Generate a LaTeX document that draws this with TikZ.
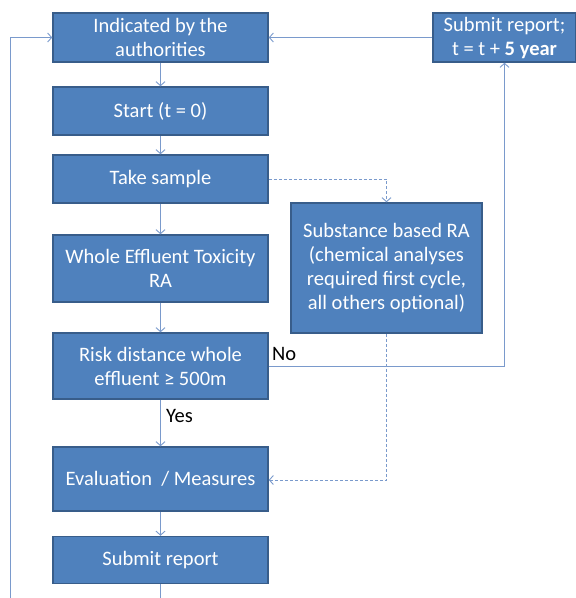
\documentclass[tikz,border=0pt]{standalone}
\usepackage{fontspec}
\setmainfont{Carlito}
\usetikzlibrary{arrows.meta}
\definecolor{boxfill}{HTML}{4F81BD}
\definecolor{boxline}{HTML}{385D8A}
\definecolor{conn}{HTML}{7A9ACC}
\tikzset{
  flowbox/.style={draw=boxline, line width=1.5pt, fill=boxfill, text=white, align=center,
    font=\fontsize{20.5}{24}\selectfont, inner sep=2pt},
  conline/.style={draw=conn, line width=0.9pt, -{Straight Barb[length=4pt,width=9pt]}},
  dashline/.style={conline, dashed, dash pattern=on 3pt off 2pt},
  lbl/.style={font=\fontsize{20.5}{24}\selectfont, text=black, inner sep=0pt}
}
\begin{document}
\begin{tikzpicture}[x=1pt,y=-1pt]
\useasboundingbox (0,0) rectangle (576,598);
\node[flowbox, minimum width=215pt, minimum height=49pt] (b1) at (160.5,37.5) {Indicated by the\\authorities};
\node[flowbox, minimum width=215pt, minimum height=48pt] (b2) at (160.5,111) {Start (t = 0)};
\node[flowbox, minimum width=215pt, minimum height=48pt] (b3) at (160.5,179) {Take sample};
\node[flowbox, minimum width=215pt, minimum height=67pt] (b4) at (160.5,268.5) {Whole Effluent Toxicity\\RA};
\node[flowbox, minimum width=215pt, minimum height=66pt] (b5) at (160.5,366) {Risk distance whole\\effluent ≥ 500m};
\node[flowbox, minimum width=215pt, minimum height=64pt] (b6) at (160.5,479) {Evaluation~ / Measures};
\node[flowbox, minimum width=215pt, minimum height=47pt] (b7) at (160.5,560) {Submit report};
\node[flowbox, minimum width=143pt, minimum height=49pt] (sr) at (504.5,37.5) {Submit report;\\t = t + \textbf{5 year}};
\node[flowbox, minimum width=191pt, minimum height=130pt] (sb) at (386.5,268) {Substance based RA\\(chemical analyses\\required first cycle,\\all others optional)};
\coordinate (bl) at (10,598);
\coordinate (bm) at (160.5,598);
\coordinate (tl) at (10,37.5);
\coordinate (d1) at (386.5,179);
\coordinate (d2) at (386.5,480);
\coordinate (n1) at (504.5,366);
\draw[conline] (b1) -- (b2);
\draw[conline] (b2) -- (b3);
\draw[conline] (b3) -- (b4);
\draw[conline] (b4) -- (b5);
\draw[conline] (b5) -- (b6);
\draw[conline] (b6) -- (b7);
\draw[draw=conn, line width=0.9pt] (b7) -- (bm);
\draw[conline] (bl) -- (tl) -- (b1.west);
\draw[conline] (sr.west) -- (b1.east);
\draw[conline] (b5.east |- n1) -- (n1) -- (sr.south);
\draw[dashline] (b3.east) -- (d1) -- (sb.north);
\draw[dashline] (sb.south) -- (d2) -- (b6.east |- d2);
\node[lbl, anchor=west] (no) at (272,354) {No};
\node[lbl, anchor=west] (yes) at (166,416) {Yes};
\end{tikzpicture}
\end{document}
